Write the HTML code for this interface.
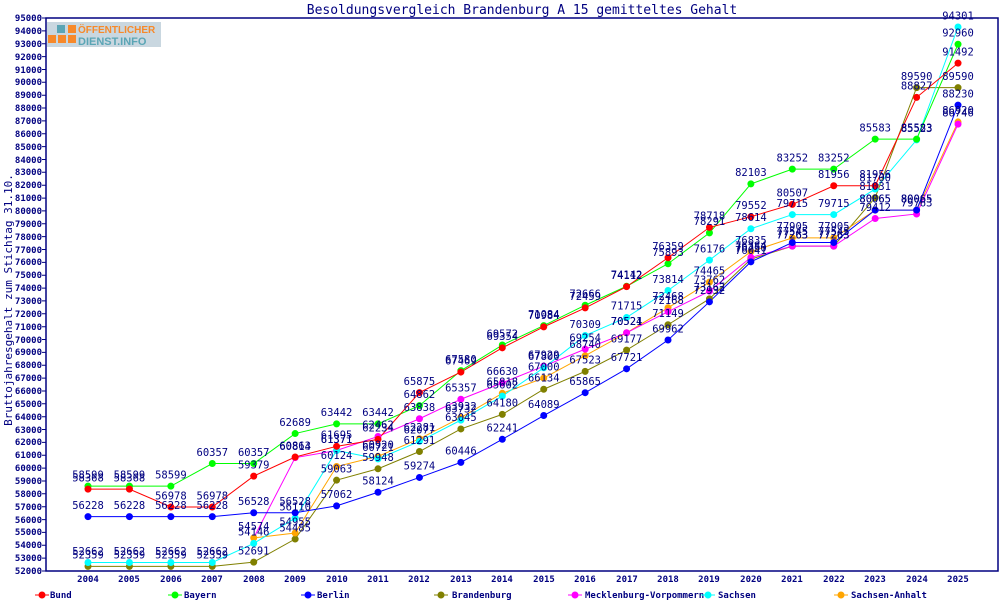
<!DOCTYPE html>
<html><head><meta charset="utf-8"><style>
body{margin:0;background:#fff}
svg{display:block;font-family:"DejaVu Sans Mono","Liberation Mono",monospace}
.l text{font-size:10.5px;fill:#000080;text-anchor:middle}
.ax{font-size:9px;font-weight:bold;fill:#000080}
.s{fill:none;vector-effect:non-scaling-stroke;stroke-width:1}
.m{fill:none;vector-effect:non-scaling-stroke;stroke-width:7;stroke-linecap:round}
</style></head><body>
<svg width="1000" height="600" viewBox="0 0 1000 600">
<rect width="1000" height="600" fill="#fff"/>
<text x="522" y="14" font-size="13" fill="#000080" text-anchor="middle">Besoldungsvergleich Brandenburg A 15 gemitteltes Gehalt</text>
<rect x="46" y="18" width="952" height="553" fill="none" stroke="#000080" stroke-width="1.5"/>
<rect x="47" y="22" width="114" height="25" fill="#c9d7e0"/>
<rect x="48" y="35" width="8" height="8" fill="#f7892a"/><rect x="58" y="35" width="8" height="8" fill="#f7892a"/><rect x="68" y="35" width="8" height="8" fill="#f7892a"/><rect x="68" y="25" width="8" height="8" fill="#f7892a"/><rect x="57" y="25" width="8" height="8" fill="#5aa5b5"/>
<text x="78" y="33" font-family="Liberation Sans" font-weight="bold" font-size="10" fill="#f7892a">ÖFFENTLICHER</text>
<text x="78" y="45" font-family="Liberation Sans" font-weight="bold" font-size="11" fill="#5aa5b5">DIENST.INFO</text>
<text transform="translate(12,300) rotate(-90)" font-size="11" fill="#000080" text-anchor="middle">Bruttojahresgehalt zum Stichtag 31.10.</text>
<g class="ax" text-anchor="end">
<text x="42" y="574">52000</text><text x="42" y="561">53000</text><text x="42" y="548">54000</text><text x="42" y="535">55000</text><text x="42" y="523">56000</text><text x="42" y="510">57000</text><text x="42" y="497">58000</text><text x="42" y="484">59000</text><text x="42" y="471">60000</text><text x="42" y="458">61000</text><text x="42" y="445">62000</text><text x="42" y="433">63000</text><text x="42" y="420">64000</text><text x="42" y="407">65000</text><text x="42" y="394">66000</text><text x="42" y="381">67000</text><text x="42" y="368">68000</text><text x="42" y="355">69000</text><text x="42" y="343">70000</text><text x="42" y="330">71000</text><text x="42" y="317">72000</text><text x="42" y="304">73000</text><text x="42" y="291">74000</text><text x="42" y="278">75000</text><text x="42" y="265">76000</text><text x="42" y="253">77000</text><text x="42" y="240">78000</text><text x="42" y="227">79000</text><text x="42" y="214">80000</text><text x="42" y="201">81000</text><text x="42" y="188">82000</text><text x="42" y="175">83000</text><text x="42" y="163">84000</text><text x="42" y="150">85000</text><text x="42" y="137">86000</text><text x="42" y="124">87000</text><text x="42" y="111">88000</text><text x="42" y="98">89000</text><text x="42" y="85">90000</text><text x="42" y="73">91000</text><text x="42" y="60">92000</text><text x="42" y="47">93000</text><text x="42" y="34">94000</text><text x="42" y="21">95000</text>
</g>
<g class="ax" text-anchor="middle">
<text x="88" y="582">2004</text><text x="129" y="582">2005</text><text x="171" y="582">2006</text><text x="212" y="582">2007</text><text x="254" y="582">2008</text><text x="295" y="582">2009</text><text x="337" y="582">2010</text><text x="378" y="582">2011</text><text x="419" y="582">2012</text><text x="461" y="582">2013</text><text x="502" y="582">2014</text><text x="544" y="582">2015</text><text x="585" y="582">2016</text><text x="627" y="582">2017</text><text x="668" y="582">2018</text><text x="709" y="582">2019</text><text x="751" y="582">2020</text><text x="792" y="582">2021</text><text x="834" y="582">2022</text><text x="875" y="582">2023</text><text x="917" y="582">2024</text><text x="958" y="582">2025</text>
</g>
<g stroke="#000080" stroke-width="1">
<path d="M42 571h4M42 558.1h4M42 545.3h4M42 532.4h4M42 519.6h4M42 506.7h4M42 493.8h4M42 481h4M42 468.1h4M42 455.3h4M42 442.4h4M42 429.5h4M42 416.7h4M42 403.8h4M42 391h4M42 378.1h4M42 365.2h4M42 352.4h4M42 339.5h4M42 326.7h4M42 313.8h4M42 300.9h4M42 288.1h4M42 275.2h4M42 262.4h4M42 249.5h4M42 236.6h4M42 223.8h4M42 210.9h4M42 198.1h4M42 185.2h4M42 172.3h4M42 159.5h4M42 146.6h4M42 133.8h4M42 120.9h4M42 108h4M42 95.2h4M42 82.3h4M42 69.5h4M42 56.6h4M42 43.7h4M42 30.9h4M42 18h4"/>
</g>
<g transform="translate(88,571) scale(41.43,-12.86)">
<polyline class="s" stroke="#808000" points="0,.359 1,.359 2,.359 3,.359 4,.691 5,2.485 6,7.063 7,7.948 8,9.291 9,11.045 10,12.18 11,14.134 12,15.523 13,17.177 14,19.149 15,21.162 16,24.25 17,25.263 18,25.263 19,29.031 20,37.59 21,37.59"/>
<polyline class="s" stroke="#ffa500" points="4,2.574 5,2.955 6,8.124 7,8.92 8,10.281 9,11.932 10,13.818 11,15 12,16.74 13,18.521 14,20.468 15,22.465 16,24.835 17,25.905 18,25.905 19,28.065 20,28.065 21,34.92"/>
<polyline class="s" stroke="#ff00ff" points="4,2.574 5,8.814 6,9.371 7,10.462 8,11.838 9,13.357 10,14.63 11,15.929 12,17.254 13,18.524 14,20.168 15,21.762 16,24.384 17,25.263 18,25.263 19,27.412 20,27.763 21,34.746"/>
<polyline class="s" stroke="#00ffff" points="0,.662 1,.662 2,.662 3,.662 4,2.146 5,4.11 6,9.371 7,8.721 8,10.077 9,11.732 10,13.602 11,15.8 12,18.309 13,19.715 14,21.814 15,24.176 16,26.614 17,27.715 18,27.715 19,29.7 20,33.523 21,42.301"/>
<polyline class="s" stroke="#0000ff" points="0,4.228 1,4.228 2,4.228 3,4.228 4,4.528 5,4.528 6,5.062 7,6.124 8,7.274 9,8.446 10,10.241 11,12.089 12,13.865 13,15.721 14,17.962 15,20.932 16,24.041 17,25.545 18,25.545 19,28.065 20,28.065 21,36.23"/>
<polyline class="s" stroke="#00ff00" points="0,6.599 1,6.599 2,6.599 3,8.357 4,8.357 5,10.689 6,11.442 7,11.442 8,12.862 9,15.58 10,17.572 11,19.084 12,20.666 13,22.142 14,23.893 15,26.291 16,30.103 17,31.252 18,31.252 19,33.583 20,33.583 21,40.96"/>
<polyline class="s" stroke="#ff0000" points="0,6.368 1,6.368 2,4.978 3,4.978 4,7.379 5,8.863 6,9.695 7,10.234 8,13.875 9,15.469 10,17.354 11,18.984 12,20.459 13,22.112 14,24.359 15,26.718 16,27.552 17,28.507 18,29.956 19,29.956 20,36.827 21,39.492"/>
<path class="m" stroke="#808000" d="M0 .359l0 0M1 .359l0 0M2 .359l0 0M3 .359l0 0M4 .691l0 0M5 2.485l0 0M6 7.063l0 0M7 7.948l0 0M8 9.291l0 0M9 11.045l0 0M10 12.18l0 0M11 14.134l0 0M12 15.523l0 0M13 17.177l0 0M14 19.149l0 0M15 21.162l0 0M16 24.25l0 0M17 25.263l0 0M18 25.263l0 0M19 29.031l0 0M20 37.59l0 0M21 37.59l0 0"/>
<path class="m" stroke="#ffa500" d="M4 2.574l0 0M5 2.955l0 0M6 8.124l0 0M7 8.92l0 0M8 10.281l0 0M9 11.932l0 0M10 13.818l0 0M11 15l0 0M12 16.74l0 0M13 18.521l0 0M14 20.468l0 0M15 22.465l0 0M16 24.835l0 0M17 25.905l0 0M18 25.905l0 0M19 28.065l0 0M20 28.065l0 0M21 34.92l0 0"/>
<path class="m" stroke="#ff00ff" d="M5 8.814l0 0M6 9.371l0 0M7 10.462l0 0M8 11.838l0 0M9 13.357l0 0M10 14.63l0 0M11 15.929l0 0M12 17.254l0 0M13 18.524l0 0M14 20.168l0 0M15 21.762l0 0M16 24.384l0 0M17 25.263l0 0M18 25.263l0 0M19 27.412l0 0M20 27.763l0 0M21 34.746l0 0"/>
<path class="m" stroke="#00ffff" d="M0 .662l0 0M1 .662l0 0M2 .662l0 0M3 .662l0 0M4 2.146l0 0M5 4.11l0 0M6 9.371l0 0M7 8.721l0 0M8 10.077l0 0M9 11.732l0 0M10 13.602l0 0M11 15.8l0 0M12 18.309l0 0M13 19.715l0 0M14 21.814l0 0M15 24.176l0 0M16 26.614l0 0M17 27.715l0 0M18 27.715l0 0M19 29.7l0 0M20 33.523l0 0M21 42.301l0 0"/>
<path class="m" stroke="#0000ff" d="M0 4.228l0 0M1 4.228l0 0M2 4.228l0 0M3 4.228l0 0M4 4.528l0 0M5 4.528l0 0M6 5.062l0 0M7 6.124l0 0M8 7.274l0 0M9 8.446l0 0M10 10.241l0 0M11 12.089l0 0M12 13.865l0 0M13 15.721l0 0M14 17.962l0 0M15 20.932l0 0M16 24.041l0 0M17 25.545l0 0M18 25.545l0 0M19 28.065l0 0M20 28.065l0 0M21 36.23l0 0"/>
<path class="m" stroke="#00ff00" d="M0 6.599l0 0M1 6.599l0 0M2 6.599l0 0M3 8.357l0 0M4 8.357l0 0M5 10.689l0 0M6 11.442l0 0M7 11.442l0 0M8 12.862l0 0M9 15.58l0 0M10 17.572l0 0M11 19.084l0 0M12 20.666l0 0M13 22.142l0 0M14 23.893l0 0M15 26.291l0 0M16 30.103l0 0M17 31.252l0 0M18 31.252l0 0M19 33.583l0 0M20 33.583l0 0M21 40.96l0 0"/>
<path class="m" stroke="#ff0000" d="M0 6.368l0 0M1 6.368l0 0M2 4.978l0 0M3 4.978l0 0M4 7.379l0 0M5 8.863l0 0M6 9.695l0 0M7 10.234l0 0M8 13.875l0 0M9 15.469l0 0M10 17.354l0 0M11 18.984l0 0M12 20.459l0 0M13 22.112l0 0M14 24.359l0 0M15 26.718l0 0M16 27.552l0 0M17 28.507l0 0M18 29.956l0 0M19 29.956l0 0M20 36.827l0 0M21 39.492l0 0"/>
<g class="l" transform="translate(0,.6)">
<text transform="translate(0,.359)scale(.024137,-.07776)">52359</text><text transform="translate(1,.359)scale(.024137,-.07776)">52359</text><text transform="translate(2,.359)scale(.024137,-.07776)">52359</text><text transform="translate(3,.359)scale(.024137,-.07776)">52359</text><text transform="translate(4,.691)scale(.024137,-.07776)">52691</text><text transform="translate(5,2.485)scale(.024137,-.07776)">54485</text><text transform="translate(6,7.063)scale(.024137,-.07776)">59063</text><text transform="translate(7,7.948)scale(.024137,-.07776)">59948</text><text transform="translate(8,9.291)scale(.024137,-.07776)">61291</text><text transform="translate(9,11.045)scale(.024137,-.07776)">63045</text><text transform="translate(10,12.18)scale(.024137,-.07776)">64180</text><text transform="translate(11,14.134)scale(.024137,-.07776)">66134</text><text transform="translate(12,15.523)scale(.024137,-.07776)">67523</text><text transform="translate(13,17.177)scale(.024137,-.07776)">69177</text><text transform="translate(14,19.149)scale(.024137,-.07776)">71149</text><text transform="translate(15,21.162)scale(.024137,-.07776)">73162</text><text transform="translate(16,24.25)scale(.024137,-.07776)">76250</text><text transform="translate(17,25.263)scale(.024137,-.07776)">77263</text><text transform="translate(18,25.263)scale(.024137,-.07776)">77263</text><text transform="translate(19,29.031)scale(.024137,-.07776)">81031</text><text transform="translate(20,37.59)scale(.024137,-.07776)">89590</text><text transform="translate(21,37.59)scale(.024137,-.07776)">89590</text>
<text transform="translate(4,2.574)scale(.024137,-.07776)">54574</text><text transform="translate(5,2.955)scale(.024137,-.07776)">54955</text><text transform="translate(6,8.124)scale(.024137,-.07776)">60124</text><text transform="translate(7,8.92)scale(.024137,-.07776)">60920</text><text transform="translate(8,10.281)scale(.024137,-.07776)">62281</text><text transform="translate(9,11.932)scale(.024137,-.07776)">63932</text><text transform="translate(10,13.818)scale(.024137,-.07776)">65818</text><text transform="translate(11,15)scale(.024137,-.07776)">67000</text><text transform="translate(12,16.74)scale(.024137,-.07776)">68740</text><text transform="translate(13,18.521)scale(.024137,-.07776)">70521</text><text transform="translate(14,20.468)scale(.024137,-.07776)">72468</text><text transform="translate(15,22.465)scale(.024137,-.07776)">74465</text><text transform="translate(16,24.835)scale(.024137,-.07776)">76835</text><text transform="translate(17,25.905)scale(.024137,-.07776)">77905</text><text transform="translate(18,25.905)scale(.024137,-.07776)">77905</text><text transform="translate(19,28.065)scale(.024137,-.07776)">80065</text><text transform="translate(20,28.065)scale(.024137,-.07776)">80065</text><text transform="translate(21,34.92)scale(.024137,-.07776)">86920</text>
<text transform="translate(5,8.814)scale(.024137,-.07776)">60814</text><text transform="translate(6,9.371)scale(.024137,-.07776)">61371</text><text transform="translate(7,10.462)scale(.024137,-.07776)">62462</text><text transform="translate(8,11.838)scale(.024137,-.07776)">63838</text><text transform="translate(9,13.357)scale(.024137,-.07776)">65357</text><text transform="translate(10,14.63)scale(.024137,-.07776)">66630</text><text transform="translate(11,15.929)scale(.024137,-.07776)">67929</text><text transform="translate(12,17.254)scale(.024137,-.07776)">69254</text><text transform="translate(13,18.524)scale(.024137,-.07776)">70524</text><text transform="translate(14,20.168)scale(.024137,-.07776)">72168</text><text transform="translate(15,21.762)scale(.024137,-.07776)">73762</text><text transform="translate(16,24.384)scale(.024137,-.07776)">76384</text><text transform="translate(17,25.263)scale(.024137,-.07776)">77263</text><text transform="translate(18,25.263)scale(.024137,-.07776)">77263</text><text transform="translate(19,27.412)scale(.024137,-.07776)">79412</text><text transform="translate(20,27.763)scale(.024137,-.07776)">79763</text><text transform="translate(21,34.746)scale(.024137,-.07776)">86746</text>
<text transform="translate(0,.662)scale(.024137,-.07776)">52662</text><text transform="translate(1,.662)scale(.024137,-.07776)">52662</text><text transform="translate(2,.662)scale(.024137,-.07776)">52662</text><text transform="translate(3,.662)scale(.024137,-.07776)">52662</text><text transform="translate(4,2.146)scale(.024137,-.07776)">54146</text><text transform="translate(5,4.11)scale(.024137,-.07776)">56110</text><text transform="translate(6,9.371)scale(.024137,-.07776)">61371</text><text transform="translate(7,8.721)scale(.024137,-.07776)">60721</text><text transform="translate(8,10.077)scale(.024137,-.07776)">62077</text><text transform="translate(9,11.732)scale(.024137,-.07776)">63732</text><text transform="translate(10,13.602)scale(.024137,-.07776)">65602</text><text transform="translate(11,15.8)scale(.024137,-.07776)">67800</text><text transform="translate(12,18.309)scale(.024137,-.07776)">70309</text><text transform="translate(13,19.715)scale(.024137,-.07776)">71715</text><text transform="translate(14,21.814)scale(.024137,-.07776)">73814</text><text transform="translate(15,24.176)scale(.024137,-.07776)">76176</text><text transform="translate(16,26.614)scale(.024137,-.07776)">78614</text><text transform="translate(17,27.715)scale(.024137,-.07776)">79715</text><text transform="translate(18,27.715)scale(.024137,-.07776)">79715</text><text transform="translate(19,29.7)scale(.024137,-.07776)">81700</text><text transform="translate(20,33.523)scale(.024137,-.07776)">85523</text><text transform="translate(21,42.301)scale(.024137,-.07776)">94301</text>
<text transform="translate(0,4.228)scale(.024137,-.07776)">56228</text><text transform="translate(1,4.228)scale(.024137,-.07776)">56228</text><text transform="translate(2,4.228)scale(.024137,-.07776)">56228</text><text transform="translate(3,4.228)scale(.024137,-.07776)">56228</text><text transform="translate(4,4.528)scale(.024137,-.07776)">56528</text><text transform="translate(5,4.528)scale(.024137,-.07776)">56528</text><text transform="translate(6,5.062)scale(.024137,-.07776)">57062</text><text transform="translate(7,6.124)scale(.024137,-.07776)">58124</text><text transform="translate(8,7.274)scale(.024137,-.07776)">59274</text><text transform="translate(9,8.446)scale(.024137,-.07776)">60446</text><text transform="translate(10,10.241)scale(.024137,-.07776)">62241</text><text transform="translate(11,12.089)scale(.024137,-.07776)">64089</text><text transform="translate(12,13.865)scale(.024137,-.07776)">65865</text><text transform="translate(13,15.721)scale(.024137,-.07776)">67721</text><text transform="translate(14,17.962)scale(.024137,-.07776)">69962</text><text transform="translate(15,20.932)scale(.024137,-.07776)">72932</text><text transform="translate(16,24.041)scale(.024137,-.07776)">76041</text><text transform="translate(17,25.545)scale(.024137,-.07776)">77545</text><text transform="translate(18,25.545)scale(.024137,-.07776)">77545</text><text transform="translate(19,28.065)scale(.024137,-.07776)">80065</text><text transform="translate(20,28.065)scale(.024137,-.07776)">80065</text><text transform="translate(21,36.23)scale(.024137,-.07776)">88230</text>
<text transform="translate(0,6.599)scale(.024137,-.07776)">58599</text><text transform="translate(1,6.599)scale(.024137,-.07776)">58599</text><text transform="translate(2,6.599)scale(.024137,-.07776)">58599</text><text transform="translate(3,8.357)scale(.024137,-.07776)">60357</text><text transform="translate(4,8.357)scale(.024137,-.07776)">60357</text><text transform="translate(5,10.689)scale(.024137,-.07776)">62689</text><text transform="translate(6,11.442)scale(.024137,-.07776)">63442</text><text transform="translate(7,11.442)scale(.024137,-.07776)">63442</text><text transform="translate(8,12.862)scale(.024137,-.07776)">64862</text><text transform="translate(9,15.58)scale(.024137,-.07776)">67580</text><text transform="translate(10,17.572)scale(.024137,-.07776)">69572</text><text transform="translate(11,19.084)scale(.024137,-.07776)">71084</text><text transform="translate(12,20.666)scale(.024137,-.07776)">72666</text><text transform="translate(13,22.142)scale(.024137,-.07776)">74142</text><text transform="translate(14,23.893)scale(.024137,-.07776)">75893</text><text transform="translate(15,26.291)scale(.024137,-.07776)">78291</text><text transform="translate(16,30.103)scale(.024137,-.07776)">82103</text><text transform="translate(17,31.252)scale(.024137,-.07776)">83252</text><text transform="translate(18,31.252)scale(.024137,-.07776)">83252</text><text transform="translate(19,33.583)scale(.024137,-.07776)">85583</text><text transform="translate(20,33.583)scale(.024137,-.07776)">85583</text><text transform="translate(21,40.96)scale(.024137,-.07776)">92960</text>
<text transform="translate(0,6.368)scale(.024137,-.07776)">58368</text><text transform="translate(1,6.368)scale(.024137,-.07776)">58368</text><text transform="translate(2,4.978)scale(.024137,-.07776)">56978</text><text transform="translate(3,4.978)scale(.024137,-.07776)">56978</text><text transform="translate(4,7.379)scale(.024137,-.07776)">59379</text><text transform="translate(5,8.863)scale(.024137,-.07776)">60863</text><text transform="translate(6,9.695)scale(.024137,-.07776)">61695</text><text transform="translate(7,10.234)scale(.024137,-.07776)">62234</text><text transform="translate(8,13.875)scale(.024137,-.07776)">65875</text><text transform="translate(9,15.469)scale(.024137,-.07776)">67469</text><text transform="translate(10,17.354)scale(.024137,-.07776)">69354</text><text transform="translate(11,18.984)scale(.024137,-.07776)">70984</text><text transform="translate(12,20.459)scale(.024137,-.07776)">72459</text><text transform="translate(13,22.112)scale(.024137,-.07776)">74112</text><text transform="translate(14,24.359)scale(.024137,-.07776)">76359</text><text transform="translate(15,26.718)scale(.024137,-.07776)">78718</text><text transform="translate(16,27.552)scale(.024137,-.07776)">79552</text><text transform="translate(17,28.507)scale(.024137,-.07776)">80507</text><text transform="translate(18,29.956)scale(.024137,-.07776)">81956</text><text transform="translate(19,29.956)scale(.024137,-.07776)">81956</text><text transform="translate(20,36.827)scale(.024137,-.07776)">88827</text><text transform="translate(21,39.492)scale(.024137,-.07776)">91492</text>
</g>
</g>
<g font-size="9" font-weight="bold" fill="#000080">
<line x1="35" y1="595" x2="49" y2="595" stroke="#ff0000"/><circle cx="42" cy="595" r="3.5" fill="#ff0000"/><text x="50" y="598">Bund</text>
<line x1="168" y1="595" x2="182" y2="595" stroke="#00ff00"/><circle cx="175" cy="595" r="3.5" fill="#00ff00"/><text x="184" y="598">Bayern</text>
<line x1="301" y1="595" x2="315" y2="595" stroke="#0000ff"/><circle cx="308" cy="595" r="3.5" fill="#0000ff"/><text x="317" y="598">Berlin</text>
<line x1="434" y1="595" x2="448" y2="595" stroke="#808000"/><circle cx="441" cy="595" r="3.5" fill="#808000"/><text x="452" y="598">Brandenburg</text>
<line x1="568" y1="595" x2="582" y2="595" stroke="#ff00ff"/><circle cx="575" cy="595" r="3.5" fill="#ff00ff"/><text x="585" y="598">Mecklenburg-Vorpommern</text>
<line x1="701" y1="595" x2="715" y2="595" stroke="#00ffff"/><circle cx="708" cy="595" r="3.5" fill="#00ffff"/><text x="718" y="598">Sachsen</text>
<line x1="834" y1="595" x2="848" y2="595" stroke="#ffa500"/><circle cx="841" cy="595" r="3.5" fill="#ffa500"/><text x="851" y="598">Sachsen-Anhalt</text>
</g>
</svg>
</body></html>
